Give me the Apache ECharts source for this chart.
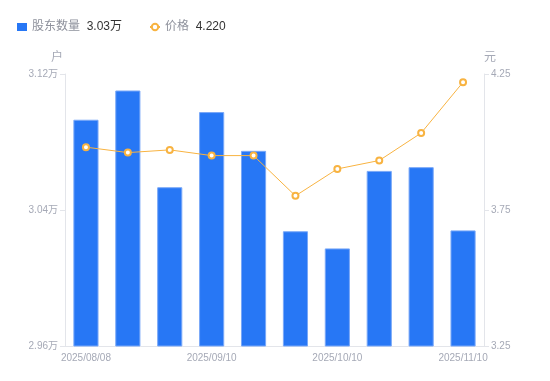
<!DOCTYPE html>
<html>
<head>
<meta charset="utf-8">
<script src="https://cdn.jsdelivr.net/npm/echarts@6/dist/echarts.min.js"></script>
<style>
	html, body {margin:0; padding:0; background:#fff;}
	#chart {width:550px; height:381px;}
</style>
</head>
<body>
<div id="chart"></div>
<script>
// 报告期
var dates = ['2025/08/08','2025/08/20','2025/08/31','2025/09/10','2025/09/19',
	'2025/09/30','2025/10/10','2025/10/20','2025/10/31','2025/11/10'];
// 股东数量(户)
var holders = [30931, 31103, 30534, 30976, 30748, 30275, 30174, 30630, 30652, 30280];
// 价格(元)
var prices = [3.981, 3.961, 3.971, 3.950, 3.950, 3.802, 3.901, 3.932, 4.033, 4.220];

var fontFam = "'Liberation Sans', 'Noto Sans CJK SC', sans-serif";
var labelColor = '#A5A9B6';
var lineColor = '#E3E5EA';

function wan(v){
	return (v/10000).toFixed(2)+'万';
}

var chart = echarts.init(document.getElementById('chart'));
var lastHolder = wan(holders[holders.length-1]);
var lastPrice = prices[prices.length-1].toFixed(3);

var option = {
	animation: false,
	textStyle: {fontFamily: fontFam},
	legend: {
		left: 12,
		top: 16,
		itemWidth: 10,
		itemHeight: 8,
		itemGap: 27,
		data: [
			{name:'股东数量', icon:'rect', itemStyle: {borderWidth: 0}},
			{name:'价格'}
		],
		formatter: function(name){
			var v = name == '股东数量' ? lastHolder : lastPrice;
			return '{n|'+name+'}  {v|'+v+'}';
		},
		textStyle: {
			rich: {
				n: {color:'#8E919C', fontSize:12, fontFamily: fontFam},
				v: {color:'#333333', fontSize:12, fontFamily: fontFam}
			}
		}
	},
	grid: {left: 65, right: 66, top: 74, bottom: 35},
	xAxis: {
		type: 'category',
		data: dates,
		axisLine: {lineStyle: {color: lineColor}},
		axisTick: {show: false},
		axisLabel: {interval: 2, color: labelColor, fontSize: 10, margin: 7}
	},
	yAxis: [
		{
			type: 'value',
			name: '户',
			min: 29600,
			max: 31200,
			interval: 800,
			nameGap: 10,
			nameTextStyle: {color: labelColor, fontSize: 12, padding: [0, 16, 0, 0]},
			axisLine: {show: true, lineStyle: {color: lineColor}},
			axisTick: {show: true, length: 5, lineStyle: {color: lineColor}},
			splitLine: {show: false},
			axisLabel: {color: labelColor, fontSize: 10, margin: 7, formatter: wan}
		},
		{
			type: 'value',
			name: '元',
			min: 3.25,
			max: 4.25,
			alignTicks: true,
			nameGap: 10,
			nameTextStyle: {color: labelColor, fontSize: 12, padding: [0, 0, 0, 12]},
			axisLine: {show: true, lineStyle: {color: lineColor}},
			axisTick: {show: true, length: 5, lineStyle: {color: lineColor}},
			splitLine: {show: false},
			axisLabel: {color: labelColor, fontSize: 10, margin: 7, formatter: function(v){ return v.toFixed(2); }}
		}
	],
	series: [
		{
			name: '股东数量',
			type: 'bar',
			yAxisIndex: 0,
			barWidth: '60%',
			itemStyle: {color: '#2777F5', borderColor: '#79A8F8', borderWidth: 1},
			data: holders
		},
		{
			name: '价格',
			type: 'line',
			yAxisIndex: 1,
			symbol: 'emptyCircle',
			symbolSize: 6,
			showAllSymbol: true,
			itemStyle: {color: '#F8B341', borderWidth: 2},
			lineStyle: {color: '#F8B341', width: 1},
			data: prices
		}
	]
};
chart.setOption(option);
</script>
</body>
</html>
